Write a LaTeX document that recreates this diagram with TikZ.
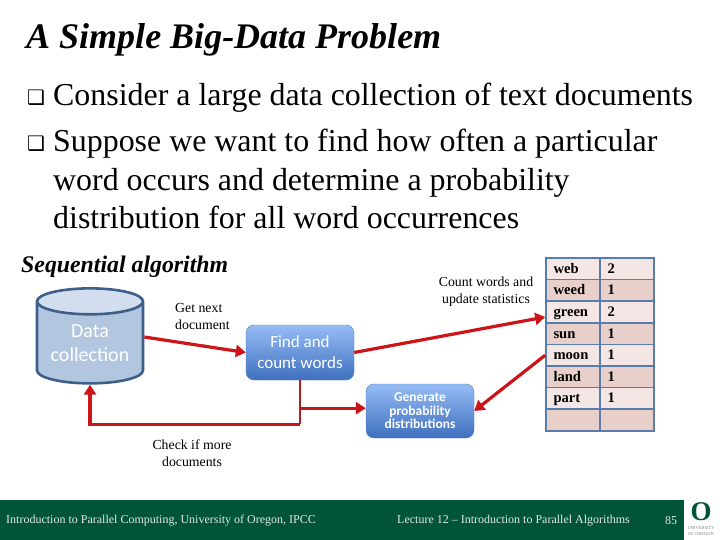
\documentclass[tikz,border=0pt]{standalone}
\usepackage{fontspec}
\setmainfont{Liberation Serif}
\newfontfamily\boxfont{Carlito}
\newfontfamily\symfont{DejaVu Sans}
\usetikzlibrary{positioning, calc, arrows.meta, shapes.geometric}
\definecolor{flowRed}{RGB}{205, 20, 25}
\definecolor{flowDark}{RGB}{175, 30, 35}
\definecolor{boxTop}{RGB}{150, 188, 245}
\definecolor{boxBot}{RGB}{62, 112, 190}
\definecolor{boxEdge}{RGB}{80, 130, 190}
\definecolor{cylBody}{RGB}{178, 198, 224}
\definecolor{cylEnd}{RGB}{210, 222, 238}
\definecolor{cylEdge}{RGB}{62, 95, 138}
\definecolor{tabEdge}{RGB}{88, 125, 170}
\definecolor{rowLight}{RGB}{244, 230, 228}
\definecolor{rowDark}{RGB}{232, 207, 202}
\definecolor{footGreen}{RGB}{0, 84, 56}
\definecolor{footText}{RGB}{225, 235, 230}
\newcommand{\px}[1]{\fontsize{#1}{#1}\selectfont}
\begin{document}
\begin{tikzpicture}[
          x=1pt, y=-1pt,
          stepbox/.style={draw=boxEdge, rounded corners=8pt, top color=boxTop,
                      bottom color=boxBot, minimum width=108pt, align=center,
                      text=white, inner sep=0pt},
          lbl/.style={font=\px{13.8}, align=center, inner sep=0pt},
          bullet/.style={font=\symfont\px{20}, inner sep=0pt},
          bodytext/.style={font=\px{31.9}, anchor=base west, inner sep=0pt},
          cell/.style={draw=tabEdge, line width=1.6pt, minimum height=21.6pt,
                      font=\bfseries\px{14.6}, inner sep=0pt, align=left,
                      text height=12pt, text depth=3pt},
          arr/.style={-{Triangle[length=10pt, width=12pt]}, flowRed, line width=3.2pt},
          foot/.style={font=\px{12}, text=footText, inner sep=0pt, anchor=west}
        ]
        \useasboundingbox (0,0) rectangle (720,540);
        \fill[white] (0,0) rectangle (720,540);

        \node[font=\bfseries\itshape\px{36}, anchor=base west, inner sep=0pt] (title) at (26,48.5)
              {A Simple Big-Data Problem};
        \node[bullet] (b1) at (36,98) {❑};
        \node[bullet] (b2) at (36,144) {❑};
        \node[bodytext] (t1) at (53,106) {Consider a large data collection of text documents};
        \node[bodytext] (t2) at (53,152) {Suppose we want to find how often a particular};
        \node[bodytext] (t3) at (53,191) {word occurs and determine a probability};
        \node[bodytext] (t4) at (53,229) {distribution for all word occurrences};
        \node[font=\bfseries\itshape\px{23.8}, anchor=base west, inner sep=0pt] (seq) at (21,272)
              {Sequential algorithm};

        \node[cylinder, shape border rotate=90, aspect=0.33, draw=cylEdge, line width=2.6pt,
              cylinder uses custom fill, cylinder body fill=cylBody, cylinder end fill=cylEnd,
              minimum width=106pt, minimum height=95pt, inner sep=0pt,
              align=center, text=white, font=\boxfont\px{20}] (data) at (90,343)
              {Data\\[4pt]collection};
        \node[stepbox, minimum height=55pt, font=\boxfont\px{17}] (find) at (300,352.5)
              {Find and\\[4pt]count words};
        \node[stepbox, minimum height=54pt, font=\boxfont\bfseries\px{13.5}] (gen) at (420,411)
              {Generate\\probability\\distributions};

        \node[lbl, align=left, anchor=north west] (getnext) at (175,303) {Get next\\[3pt]document};
        \node[lbl] (count) at (486,292) {Count words and\\[3pt]update statistics};
        \node[lbl] (check) at (192,453) {Check if more\\[3pt]documents};

        % word table, one row per loop pass
        \foreach \word/\num/\rowfill [count=\i] in {web/2/rowLight, weed/1/rowDark,
              green/2/rowLight, sun/1/rowDark, moon/1/rowLight, land/1/rowDark,
              part/1/rowLight, /\ /rowDark} {
          \node[cell, fill=\rowfill, minimum width=54pt, text width=39pt] (word\i)
                at (573,{247.2+21.6*\i}) {\word};
          \node[cell, fill=\rowfill, minimum width=54pt, text width=39pt] (num\i)
                at (627,{247.2+21.6*\i}) {\num};
        }

        \draw[arr] ($(data.east)+(0,-6)$) -- (find.west);
        \draw[arr] (find.east) -- ($(word3.west)+(0,5)$);
        \draw[arr] (word5.west) -- (gen.east);
        \coordinate (branch) at ($(find.south)+(0,28)$);
        \draw[arr] (branch) -- (branch -| gen.west);
        % return path under the boxes, back up to the cylinder
        \coordinate (turn) at ($(find.south)+(0,44)$);
        \draw[flowDark, line width=2.4pt] (find.south) -- (turn);
        \draw[arr] (turn) -| (data.south);

        \fill[footGreen] (0,500) rectangle (684,540);
        \node[foot] (fleft) at (6,521) {Introduction to Parallel Computing, University of Oregon, IPCC};
        \node[foot] (fmid) at (397,521) {Lecture 12 – Introduction to Parallel Algorithms};
        \node[foot] (fnum) at (665,521) {85};
        \node[font=\bfseries\px{27}, text=footGreen, inner sep=0pt] (logo) at (701,512) {O};
        \node[font=\px{4.5}, text=gray, align=center, inner sep=0pt] (uni) at (701,531)
              {UNIVERSITY\\[2pt]OF OREGON};
      \end{tikzpicture}
\end{document}
